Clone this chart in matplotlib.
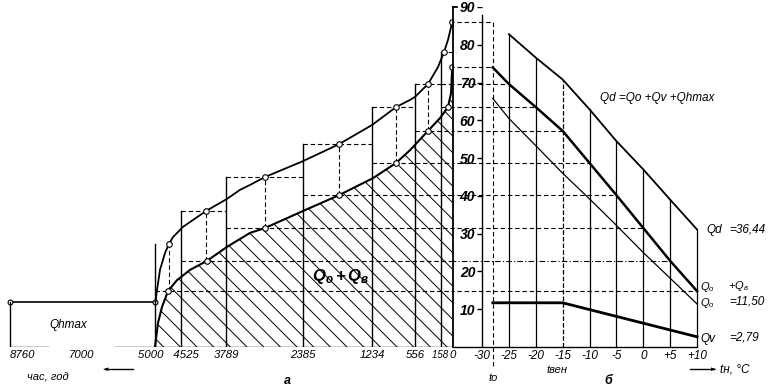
import numpy as np
import matplotlib
matplotlib.use("Agg")
import matplotlib.pyplot as plt

plt.rcParams['font.family'] = ['Liberation Sans', 'DejaVu Sans']
plt.rcParams['mathtext.fontset'] = 'custom'
plt.rcParams['mathtext.rm'] = 'Liberation Sans:italic'
plt.rcParams['mathtext.it'] = 'Liberation Sans:italic'
plt.rcParams['mathtext.bf'] = 'Liberation Sans:bold:italic'
plt.rcParams['hatch.linewidth'] = 0.7

# ---- left panel: heat load duration, hours per year ----
hour_ticks = [8760, 7000, 5000, 4525, 3789, 2385, 1234, 556, 158, 0]
hour_labels = ['8760', '7000', '5000   ', '   4525', '3789', '2385', '1234', '556', '158 ', '0']
# the hour axis is drawn unevenly: distance of each tick from the Q axis (px)
tick_dist = [443, 371, 298, 272, 227, 150, 81, 38, 12, 0]

upper_h = [4990, 4963, 4909, 4817, 4744, 4671, 4492, 4116, 3771, 3534, 3351, 3078,
           2385, 1784, 1230, 856, 635, 556, 357, 204, 118, 66, 10]
upper_q = [12.0, 15.1, 20.4, 24.9, 27.3, 29.1, 31.8, 36.0, 39.2, 41.6, 42.9, 45.0,
           49.2, 53.7, 58.8, 63.5, 65.4, 66.2, 69.6, 74.1, 78.1, 81.3, 86.0]
lower_h = [5000, 4945, 4872, 4762, 4598, 4378, 4100, 3771, 3351, 3078, 2385, 1784,
           1218, 856, 635, 357, 173, 66, 26, 10, 0]
lower_q = [0.0, 6.4, 10.6, 14.8, 17.7, 20.4, 22.8, 26.5, 30.2, 31.5, 36.0, 40.2,
           44.7, 48.7, 52.1, 57.2, 60.6, 63.5, 67.2, 74.0, 74.0]

up_mark_h = [4744, 4116, 3078, 1784, 856, 357, 118, 10]
up_mark_q = [27.3, 36.0, 45.0, 53.7, 63.5, 69.6, 78.1, 86.0]
lo_mark_h = [4762, 4100, 3078, 1784, 856, 357, 66, 10]
lo_mark_q = [14.8, 22.8, 31.5, 40.2, 48.7, 57.2, 63.5, 74.0]

step_edges = [5000, 4525, 3789, 2385, 1234, 556, 158, 0]
step_temps = [10, 5, 0, -5, -10, -15, -20, -28]   # where each lower level meets Qo+Qv
carry_step, carry_temp = 5, -25                   # upper level carried to Qo+Qv

qh_max = 12.0
qh_hours = [8760, 5000]

# ---- right panel: load vs outdoor temperature ----
temps = [-28, -25, -20, -15, -10, -5, 0, 5, 10]
q_ov = [74.0, 69.6, 63.5, 57.2, 48.7, 40.2, 31.5, 22.8, 14.8]
q_o = [65.8, 60.5, 53.3, 46.0, 39.2, 32.2, 25.0, 18.2, 11.4]
qd_t = [-25, -20, -15, -10, -5, 0, 5, 10]
qd = [82.8, 76.6, 70.8, 62.9, 54.5, 47.0, 39.0, 31.1]
qd_styles = ['-', '-', '--', '-', '-', '-', '-', '-']
qv_t = [-28, -15, 10]
qv = [11.7, 11.7, 2.7]
t_out = -28
t_ticks = [-30, -25, -20, -15, -10, -5, 0, 5, 10]
t_labels = ['-30', '-25', '-20', '-15', '-10', '-5', '0', '+5', '+10']
q_ticks = [10, 20, 30, 40, 50, 60, 70, 80, 90]

W, H = 768, 390
fig = plt.figure(figsize=(W / 100, H / 100), dpi=100)
axL = fig.add_axes([0, 43 / H, 453 / W, 340 / H])
axR = fig.add_axes([453 / W, 43 / H, 315 / W, 340 / H])
for ax in (axL, axR):
    ax.patch.set_alpha(0)
    ax.set_ylim(0, 90)

hrs = np.array(hour_ticks[::-1] + [9000], dtype=float)
dist = np.array(tick_dist[::-1] + [453], dtype=float)
axL.set_xscale('function', functions=(lambda h: np.interp(h, hrs, dist),
                                      lambda d: np.interp(d, dist, hrs)))
axL.set_xlim(9000, 0)
for s in axL.spines.values():
    s.set_visible(False)
axL.set_yticks([])
axL.set_xticks(hour_ticks)
axL.set_xticklabels(hour_labels, fontstyle='italic', fontsize=8.2)
labs = axL.get_xticklabels()
labs[8].set_fontsize(7)
labs[0].set_horizontalalignment('left')
axL.tick_params(axis='x', length=0, pad=2)

dash = (0, (4, 2.5))
dashdot = (0, (5, 2, 1, 2))
k = dict(color='black')

# axis line with a gap
axL.plot([8760, 7830], [0, 0], lw=1, **k)
axL.plot([6100, 0], [0, 0], lw=1, **k)

# hot water constant load
axL.plot(qh_hours, [qh_max, qh_max], lw=1.2, marker='o', ms=3.5, mfc='white', mew=0.8, **k)
axL.plot([8760, 8760], [0, qh_max], lw=1, **k)

# hatched area under the lower curve
axL.fill_between(lower_h, lower_q, 0, facecolor='none', edgecolor='black',
                 hatch='\\\\', lw=0)

# steps
n = len(step_edges) - 1
for i in range(n):
    axL.plot([step_edges[i], step_edges[i]], [0, up_mark_q[i]], lw=1, **k)
    if i > 0:
        axL.plot([step_edges[i], step_edges[i + 1]], [up_mark_q[i], up_mark_q[i]],
                 ls=dash, lw=0.8, **k)
    if i < n - 1:
        axL.plot([up_mark_h[i], up_mark_h[i]], [lo_mark_q[i], up_mark_q[i]],
                 ls=dash, lw=0.8, **k)
    # lower level carried to the temperature graph
    axL.plot([step_edges[i], 0], [lo_mark_q[i], lo_mark_q[i]], ls=dash, lw=0.8, **k)
    axR.plot([-40, step_temps[i]], [lo_mark_q[i], lo_mark_q[i]],
             ls=(dashdot if i == 1 else dash), lw=0.8, **k)
axL.plot([step_edges[carry_step + 1], 0], [up_mark_q[carry_step]] * 2, ls=dash, lw=0.8, **k)
axR.plot([-40, carry_temp], [up_mark_q[carry_step]] * 2, ls=dash, lw=0.8, **k)
axR.plot([-40, t_out], [lo_mark_q[-1], lo_mark_q[-1]], ls=dash, lw=0.8, **k)
axR.plot([-40, t_out], [up_mark_q[-1], up_mark_q[-1]], ls=dash, lw=0.8, **k)

axL.plot(upper_h, upper_q, lw=1.3, **k)
axL.plot(lower_h, lower_q, lw=1.5, **k)
axL.plot(up_mark_h, up_mark_q, ls='none', marker='o', ms=4, mfc='white', mew=0.8, **k)
axL.plot(lo_mark_h, lo_mark_q, ls='none', marker='o', ms=4, mfc='white', mew=0.8, **k)

# ---- right panel ----
axR.set_xlim(-35.4, 23.2)
axR.spines['top'].set_visible(False)
axR.spines['right'].set_visible(False)
axR.spines['left'].set_linewidth(1.3)
axR.spines['bottom'].set_bounds(-35.4, 10)
axR.spines['bottom'].set_linewidth(1)
axR.set_yticks(q_ticks)
axR.set_yticklabels([str(v) for v in q_ticks], fontweight='bold', fontstyle='italic', fontsize=10)
axR.tick_params(axis='y', length=0, pad=-16)
axR.set_xticks(t_ticks)
axR.set_xticklabels(t_labels, fontstyle='italic', fontsize=8.5)
axR.tick_params(axis='x', length=0, pad=2)
axR.hlines(q_ticks, -31, -30, lw=1, **k)
axR.plot([-35.4, -34.7], [90, 90], lw=1.3, clip_on=False, **k)

axR.plot([-30, -30], [0, 88], lw=1, **k)
for t, q, st in zip(qd_t, qd, qd_styles):
    axR.plot([t, t], [0, q], ls=st, lw=0.9, **k)
axR.plot([t_out, t_out], [-5, up_mark_q[-1]], ls=dash, lw=0.8, clip_on=False, **k)

axR.plot(qd_t, qd, lw=1.3, **k)
axR.plot(temps, q_ov, lw=1.8, **k)
axR.plot(temps, q_o, lw=0.9, **k)
axR.plot(qv_t, qv, lw=2.0, **k)


def ftext(x, y, s, **kw):
    fig.text(x / W, 1 - y / H, s, va='center', **kw)


it = dict(fontstyle='italic', fontsize=8.5)
ftext(657, 98, 'Qd =Qo +Qv +Qhmax', ha='center', **it)
ftext(706, 230, 'Qd', ha='left', **it)
ftext(729, 230, '=36,44', ha='left', **it)
ftext(700, 287, r'$Q_o$', ha='left', fontsize=8)
ftext(728, 286, r'$+Q_в$', ha='left', fontsize=8)
ftext(700, 303, r'$Q_o$', ha='left', fontsize=8)
ftext(729, 302, '=11,50', ha='left', **it)
ftext(700, 339, 'Qv', ha='left', **it)
ftext(729, 338, '=2,79', ha='left', **it)
ftext(68, 325, 'Qhmax', ha='center', **it)
ftext(341, 277, r'$\mathbf{Q_o+Q_в}$', ha='center', fontsize=12)
ftext(48, 378, 'час, год', ha='center', fontstyle='italic', fontsize=8)
ftext(287, 381, 'а', ha='center', fontweight='bold', fontstyle='italic', fontsize=9)
ftext(608, 381, 'б', ha='center', fontweight='bold', fontstyle='italic', fontsize=9)
ftext(493, 378, 'to', ha='center', fontstyle='italic', fontsize=8)
ftext(557, 370, 'tвен', ha='center', fontstyle='italic', fontsize=8)
ftext(720, 369, 'tн, °C', ha='left', **it)

fig.add_artist(plt.Line2D([105 / W, 133 / W], [1 - 369 / H, 1 - 369 / H], color='black', lw=1))
fig.add_artist(plt.Line2D([690 / W, 714 / W], [1 - 369 / H, 1 - 369 / H], color='black', lw=1))
fig.text(103 / W, 1 - 369 / H, '◄', ha='left', va='center', fontsize=5, family='DejaVu Sans')
fig.text(716 / W, 1 - 369 / H, '►', ha='right', va='center', fontsize=5, family='DejaVu Sans')

fig.savefig('out.png', dpi=100)
